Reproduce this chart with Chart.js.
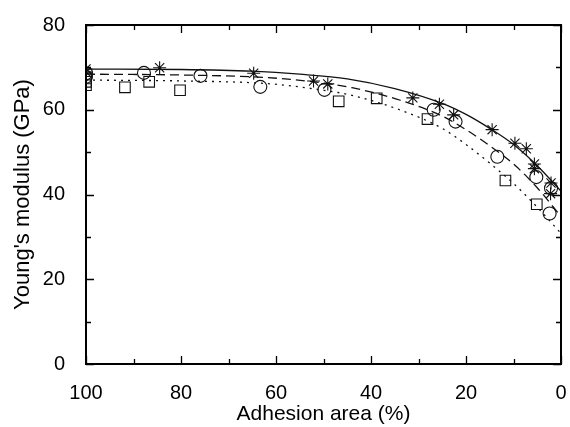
<!DOCTYPE html>
<html lang="en">
<head>
  <meta charset="UTF-8">
  <title>Young's modulus vs adhesion area</title>
  <script src="https://cdn.jsdelivr.net/npm/chart.js@4.4.1/dist/chart.umd.min.js"></script>
  <style>
    body { margin: 0; background: #fff; }
    #wrap { width: 570px; height: 427px; }
  </style>
</head>
<body>
  <div id="wrap"><canvas id="myChart" width="570" height="427"></canvas></div>
  <script>
    // measured points (adhesion area %, modulus GPa)
    const starX = [100, 100, 84.5, 64.7, 52.1, 49.1, 31.2, 25.6, 22.6, 14.5, 9.7, 7.3, 5.6, 5.6, 2.1, 2.2];
    const starY = [69.6, 68.9, 69.9, 68.6, 66.8, 66.1, 62.8, 61.3, 58.8, 55.3, 52.1, 50.8, 47.2, 46.1, 42.7, 40.2];
    const circleX = [100, 100, 87.8, 75.9, 63.3, 49.8, 26.8, 22.2, 13.4, 5.2, 2.1, 2.4];
    const circleY = [68.6, 67.8, 68.7, 68.0, 65.4, 64.7, 60.0, 57.2, 48.9, 44.1, 41.5, 35.5];
    const squareX = [100, 100, 100, 91.8, 86.7, 80.2, 46.8, 38.8, 28.1, 11.7, 5.1];
    const squareY = [67.4, 66.6, 65.8, 65.3, 66.6, 64.6, 62.0, 62.7, 57.8, 43.3, 37.7];

    // fitted curves
    const solidX = [100, 80, 65, 55, 45, 35, 25, 20, 15, 10, 5, 0];
    const solidY = [69.6, 69.5, 69.1, 68.4, 67.3, 65.0, 61.5, 58.9, 55.6, 51.8, 46.8, 40.8];
    const dashX = [100, 80, 62, 50, 44, 34, 25, 20, 15, 10, 5, 0];
    const dashY = [68.4, 68.2, 67.6, 66.3, 65.2, 62.3, 58.5, 55.3, 51.5, 47.2, 41.6, 34.8];
    const dotX = [100, 80, 61, 50, 44, 34, 25, 20, 15, 10, 5, 0];
    const dotY = [67.0, 66.8, 66.1, 64.6, 63.4, 60.0, 55.6, 51.8, 47.4, 42.6, 37.0, 30.8];

    // axis ticks
    const xMajor = [0, 20, 40, 60, 80, 100];
    const xMinor = [10, 30, 50, 70, 90];
    const yMajor = [0, 20, 40, 60, 80];
    const yMinor = [10, 30, 50, 70];

    function pts(xs, ys) {
      return xs.map((x, i) => ({ x: x, y: ys[i] }));
    }

    const font = "'Liberation Sans', Arial, sans-serif";

    // box around the plot with inward ticks on all four sides
    const frame = {
      id: 'frame',
      afterDraw(chart) {
        const c = chart.ctx;
        const a = chart.chartArea;
        const sx = chart.scales.x, sy = chart.scales.y;
        c.save();
        c.strokeStyle = '#000';
        c.lineWidth = 2;
        c.strokeRect(a.left, a.top, a.right - a.left, a.bottom - a.top);
        c.lineWidth = 1.3;
        c.beginPath();
        const xt = (vals, len) => vals.forEach(v => {
          const px = Math.round(sx.getPixelForValue(v)) + 0.5;
          c.moveTo(px, a.bottom); c.lineTo(px, a.bottom - len);
          c.moveTo(px, a.top); c.lineTo(px, a.top + len);
        });
        const yt = (vals, len) => vals.forEach(v => {
          const py = Math.round(sy.getPixelForValue(v)) + 0.5;
          c.moveTo(a.left, py); c.lineTo(a.left + len, py);
          c.moveTo(a.right, py); c.lineTo(a.right - len, py);
        });
        xt(xMajor, 8); xt(xMinor, 5);
        yt(yMajor, 8); yt(yMinor, 5);
        c.stroke();
        c.restore();
      }
    };

    const curve = (xs, ys, dash) => ({
      type: 'line',
      data: pts(xs, ys),
      borderColor: '#111',
      borderWidth: 1.3,
      borderDash: dash,
      pointRadius: 0,
      fill: false,
      cubicInterpolationMode: 'monotone',
      showLine: true
    });

    const marks = (xs, ys, style, r) => ({
      type: 'scatter',
      data: pts(xs, ys),
      pointStyle: style,
      pointRadius: r,
      borderColor: '#111',
      borderWidth: 1.1,
      backgroundColor: 'rgba(0,0,0,0)',
      showLine: false
    });

    new Chart(document.getElementById('myChart'), {
      type: 'scatter',
      data: {
        datasets: [
          curve(solidX, solidY, []),
          curve(dashX, dashY, [9, 5]),
          curve(dotX, dotY, [2, 5]),
          marks(starX, starY, 'star', 6.5),
          marks(circleX, circleY, 'circle', 6.5),
          marks(squareX, squareY, 'rect', 7.5)
        ]
      },
      options: {
        responsive: false,
        animation: false,
        layout: { padding: { top: 22, right: 9, left: 0, bottom: 0 } },
        plugins: { legend: { display: false }, tooltip: { enabled: false } },
        scales: {
          x: {
            type: 'linear',
            reverse: true,
            min: 0,
            max: 100,
            afterFit(scale) { scale.height = 63; },
            afterBuildTicks(scale) { scale.ticks = xMajor.map(v => ({ value: v })); },
            grid: { display: false },
            border: { display: false },
            ticks: { color: '#000', padding: 9, font: { family: font, size: 20 } },
            title: { display: true, text: 'Adhesion area (%)', color: '#000', padding: { top: 0, bottom: 0 }, font: { family: font, size: 21 } }
          },
          y: {
            min: 0,
            max: 80,
            afterFit(scale) { scale.width = 86; },
            afterBuildTicks(scale) { scale.ticks = yMajor.map(v => ({ value: v })); },
            grid: { display: false },
            border: { display: false },
            ticks: { color: '#000', padding: 13, font: { family: font, size: 20 } },
            title: { display: true, text: "Young's modulus (GPa)", color: '#000', padding: { top: 10, bottom: 0 }, font: { family: font, size: 22 } }
          }
        }
      },
      plugins: [frame]
    });
  </script>
</body>
</html>
